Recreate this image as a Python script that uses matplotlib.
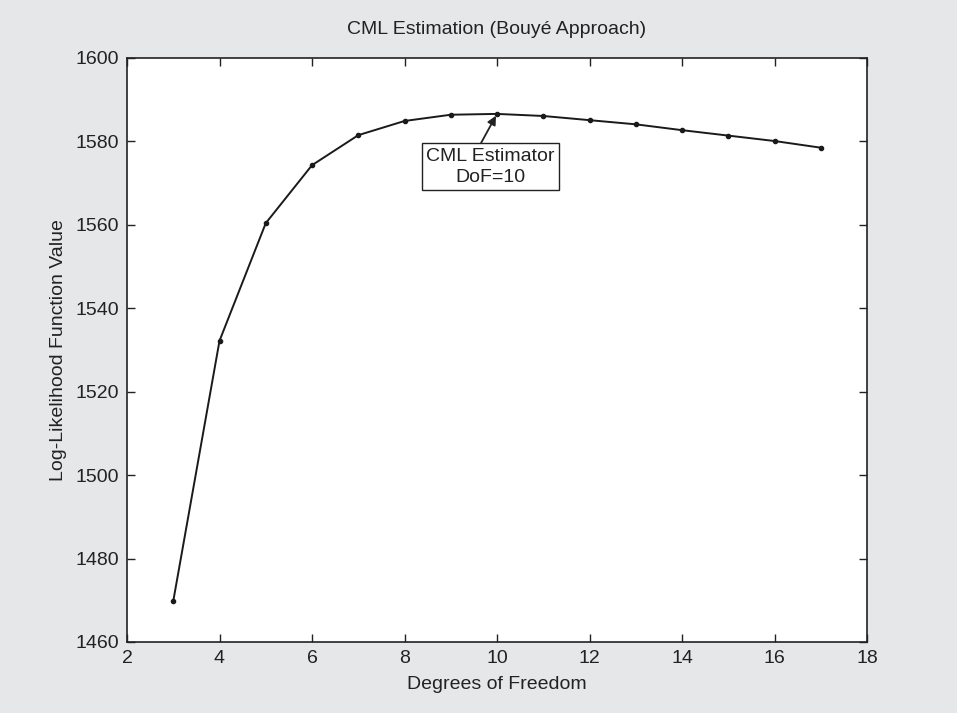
import matplotlib.pyplot as plt

plt.rcParams['font.family'] = ['Liberation Sans', 'DejaVu Sans']

dof = [3, 4, 5, 6, 7, 8, 9, 10, 11, 12, 13, 14, 15, 16, 17]
loglik = [1469.8, 1532.2, 1560.4, 1574.3, 1581.5, 1584.9, 1586.4, 1586.6,
          1586.1, 1585.1, 1584.1, 1582.7, 1581.4, 1580.1, 1578.5]
xticks = [2, 4, 6, 8, 10, 12, 14, 16, 18]
yticks = [1460, 1480, 1500, 1520, 1540, 1560, 1580, 1600]

bg = '#e6e7e9'
ink = '#222222'
fig = plt.figure(figsize=(9.57, 7.13), dpi=100, facecolor=bg)
ax = fig.add_axes([127 / 957, 1 - 642 / 713, 740 / 957, 584 / 713])

ax.plot(dof, loglik, '-', color='#1a1a1a', lw=1.4, marker='o', ms=3)
ax.set_xlim(2, 18)
ax.set_ylim(1460, 1600)
ax.set_xticks(xticks)
ax.set_yticks(yticks)
ax.tick_params(direction='in', top=True, right=True, length=6, width=1,
               labelsize=14, colors=ink, pad=6)
for s in ax.spines.values():
    s.set_linewidth(1.2)
    s.set_color(ink)

ax.set_xlabel('Degrees of Freedom', fontsize=14, color=ink, labelpad=6)
ax.set_ylabel('Log-Likelihood Function Value', fontsize=14, color=ink, labelpad=6)
ax.set_title('CML Estimation (Bouyé Approach)', fontsize=14, color=ink, pad=17)

# arrow and label box are drawn separately
ax.annotate('', xy=(10, 1586.6), xytext=(9.654, 1579.6),
            arrowprops=dict(arrowstyle='-|>', color=ink, lw=1.3,
                            shrinkA=0, shrinkB=1.5, mutation_scale=13))
ax.text(9.85, 1573.9, 'CML Estimator\nDoF=10', ha='center', va='center',
        fontsize=14, color=ink, linespacing=1.35,
        bbox=dict(boxstyle='square,pad=0.22', fc='white', ec=ink, lw=1))

fig.savefig('out.png', dpi=100, facecolor=bg)
